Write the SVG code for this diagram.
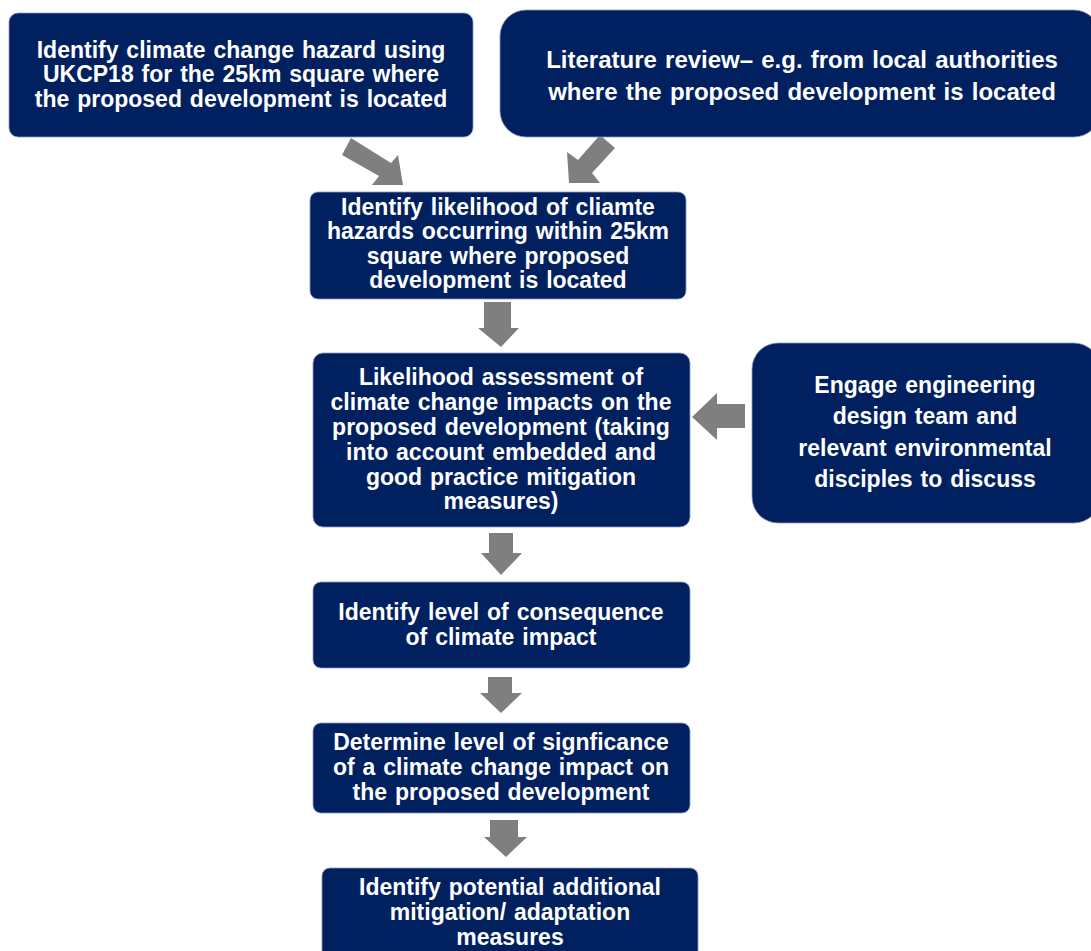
<svg xmlns="http://www.w3.org/2000/svg" width="1091" height="951" viewBox="0 0 1091 951">
<style>
.box{fill:#002060;stroke:#8d9bc0;stroke-width:0.8}
.t{font-family:"Liberation Sans",Arial,sans-serif;font-weight:bold;font-size:23px;fill:#ffffff;text-anchor:middle;word-spacing:1.5px}
.w{font-size:24px}
.arr{fill:#7f7f7f}
</style>
<rect width="1091" height="951" fill="#ffffff"/>
<g id="connectors">
<polygon class="arr" points="351,138 391,163 398,155 403,185 372,185 379,176 342,155"/>
<polygon class="arr" points="600,135 615,148 592,173 600,183 569,183 567,152 578,160"/>
<polygon class="arr" points="484,302 511,302 511,328 519,328 501,347 478,328 484,328"/>
<polygon class="arr" points="745,404 745,428 717,428 717,440 692,417 717,393 717,404"/>
<polygon class="arr" points="489,533 513,533 513,553 522,553 501,575 481,553 489,553"/>
<polygon class="arr" points="488,677 512,677 512,693 522,693 501,713 480,693 488,693"/>
<polygon class="arr" points="490,820 518,820 518,837 527,837 506,857 484,837 490,837"/>
</g>
<g id="n1">
<rect class="box" x="9" y="13" width="464" height="124" rx="9"/>
<text class="t" x="241" y="58">Identify climate change hazard using</text>
<text class="t" x="241" y="82">UKCP18 for the 25km square where</text>
<text class="t" x="241" y="107">the proposed development is located</text>
</g>
<g id="n2">
<rect class="box" x="500" y="10" width="600" height="127" rx="26"/>
<text class="t w" x="802" y="68">Literature review– e.g. from local authorities</text>
<text class="t w" x="802" y="100">where the proposed development is located</text>
</g>
<g id="n3">
<rect class="box" x="310" y="192" width="376" height="107" rx="8"/>
<text class="t" x="498" y="215">Identify likelihood of cliamte</text>
<text class="t" x="498" y="239">hazards occurring within 25km</text>
<text class="t" x="498" y="264">square where proposed</text>
<text class="t" x="498" y="288">development is located</text>
</g>
<g id="n4">
<rect class="box" x="313" y="353" width="377" height="174" rx="10"/>
<text class="t" x="501" y="385">Likelihood assessment of</text>
<text class="t" x="501" y="410">climate change impacts on the</text>
<text class="t" x="501" y="435">proposed development (taking</text>
<text class="t" x="501" y="460">into account embedded and</text>
<text class="t" x="501" y="485">good practice mitigation</text>
<text class="t" x="501" y="509">measures)</text>
</g>
<g id="n5">
<rect class="box" x="752" y="343" width="348" height="180" rx="26"/>
<text class="t" x="925" y="393">Engage engineering</text>
<text class="t" x="925" y="424">design team and</text>
<text class="t" x="925" y="456">relevant environmental</text>
<text class="t" x="925" y="487">disciples to discuss</text>
</g>
<g id="n6">
<rect class="box" x="313" y="582" width="377" height="86" rx="8"/>
<text class="t" x="501" y="620">Identify level of consequence</text>
<text class="t" x="501" y="645">of climate impact</text>
</g>
<g id="n7">
<rect class="box" x="313" y="723" width="377" height="90" rx="8"/>
<text class="t" x="501" y="750">Determine level of signficance</text>
<text class="t" x="501" y="775">of a climate change impact on</text>
<text class="t" x="501" y="800">the proposed development</text>
</g>
<g id="n8">
<rect class="box" x="322" y="868" width="376" height="100" rx="8"/>
<text class="t" x="510" y="895">Identify potential additional</text>
<text class="t" x="510" y="920">mitigation/ adaptation</text>
<text class="t" x="510" y="945">measures</text>
</g>
</svg>
